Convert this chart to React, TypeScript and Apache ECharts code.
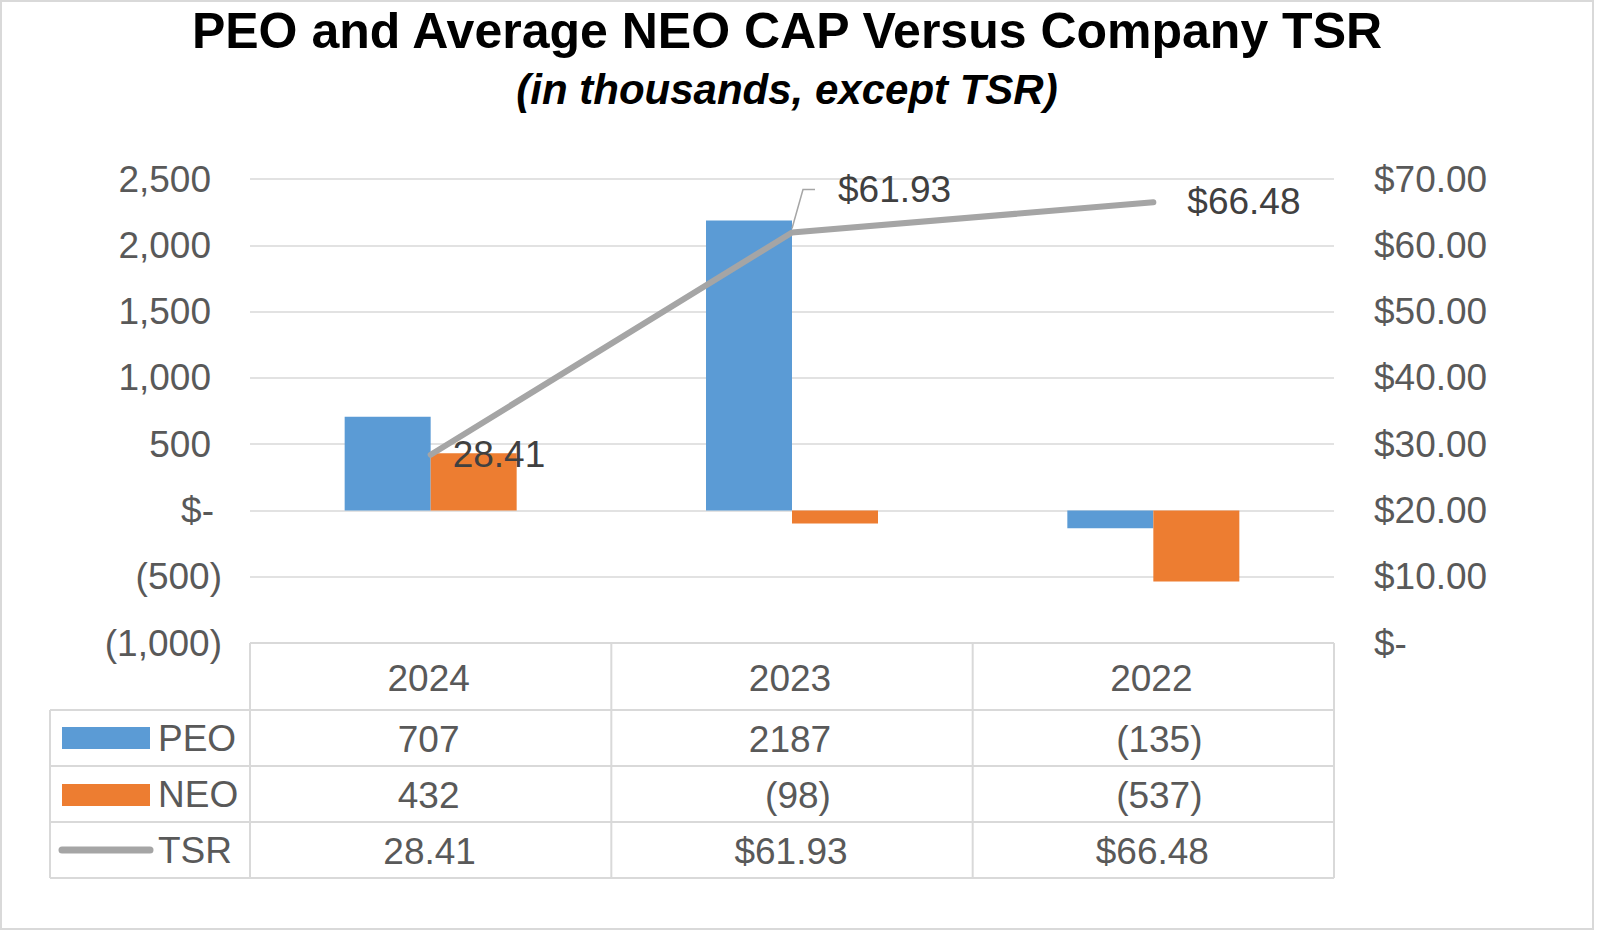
import React, { useEffect, useRef } from "react";
import * as echarts from "echarts";

// ---------------- data ----------------
const categories = ["2024", "2023", "2022"];
const peoValues = [707, 2187, -135];
const neoValues = [432, -98, -537];
const tsrValues = [28.41, 61.93, 66.48];
const tsrLabels = ["28.41", "$61.93", "$66.48"];
const seriesNames = ["PEO", "NEO", "TSR"];
const leftAxisMin = -1000;
const leftAxisMax = 2500;
const leftAxisStep = 500;
const rightAxisMin = 0;
const rightAxisMax = 70;
const rightAxisStep = 10;
const titleText = "PEO and Average NEO CAP Versus Company TSR";
const subtitleText = "(in thousands, except TSR)";

// ---------------- layout / style ----------------
const W = 1600;
const H = 932;
const GRID_L = 250;
const GRID_R = 1334;
const GRID_T = 179;
const GRID_B = 643;
const ROW_Y = [643, 710, 766, 822, 878];
const LEGEND_L = 50;
const FONT = "'Liberation Sans', Arial, Helvetica, sans-serif";
const BLUE = "#5b9bd5";
const ORANGE = "#ed7d31";
const GRAY = "#a5a5a5";
const LINE_C = "#d9d9d9";
const TEXT_C = "#595959";
const LABEL_C = "#404040";
const FS = 37;

const fmtParen = (v: number) => (v < 0 ? `(${Math.abs(v)})` : `${v}`);

function leftLabel(v: number) {
  if (v === 0) return "{z|$-}";
  if (v < 0) return `{n|(${Math.abs(v).toLocaleString("en-US")})}`;
  return `{p|${v.toLocaleString("en-US")}}`;
}
function rightLabel(v: number) {
  if (v === 0) return "$-";
  return "$" + v.toFixed(2);
}

const labelOffsets: Array<[number, number]> = [
  [21, 0],
  [45, -43],
  [33, -1],
];

export default function App() {
  const ref = useRef<HTMLDivElement>(null);

  useEffect(() => {
    const chart = echarts.init(ref.current!, null, { renderer: "svg" });
    const baseRich = { fontSize: FS, color: TEXT_C, fontFamily: FONT };
    const option: any = {
      animation: false,
      backgroundColor: "#ffffff",
      textStyle: { fontFamily: FONT },
      grid: {
        left: GRID_L,
        right: W - GRID_R,
        top: GRID_T,
        bottom: H - GRID_B,
        containLabel: false,
      },
      xAxis: {
        type: "category",
        data: categories,
        axisLine: { show: false },
        axisTick: { show: false },
        axisLabel: { show: false },
        splitLine: { show: false },
      },
      yAxis: [
        {
          type: "value",
          min: leftAxisMin,
          max: leftAxisMax,
          interval: leftAxisStep,
          axisLine: { show: false },
          axisTick: { show: false },
          splitLine: { show: true, lineStyle: { color: LINE_C, width: 1.5 } },
          axisLabel: {
            margin: 28,
            formatter: leftLabel,
            rich: {
              p: { ...baseRich, padding: [0, 11, 0, 0] },
              z: { ...baseRich, padding: [0, 8, 0, 0] },
              n: { ...baseRich },
            },
            fontSize: FS,
            color: TEXT_C,
            fontFamily: FONT,
          },
        },
        {
          type: "value",
          position: "right",
          min: rightAxisMin,
          max: rightAxisMax,
          interval: rightAxisStep,
          axisLine: { show: false },
          axisTick: { show: false },
          splitLine: { show: false },
          axisLabel: {
            margin: 40,
            formatter: rightLabel,
            fontSize: FS,
            color: TEXT_C,
            fontFamily: FONT,
          },
        },
      ],
      series: [
        {
          name: seriesNames[0],
          type: "bar",
          data: peoValues,
          yAxisIndex: 0,
          barWidth: 86,
          barGap: "0%",
          itemStyle: { color: BLUE },
        },
        {
          name: seriesNames[1],
          type: "bar",
          data: neoValues,
          yAxisIndex: 0,
          barWidth: 86,
          barGap: "0%",
          itemStyle: { color: ORANGE },
        },
        {
          name: seriesNames[2],
          type: "line",
          yAxisIndex: 1,
          data: tsrValues.map((v, i) => ({
            value: v,
            label: {
              show: true,
              position: "right",
              distance: 0,
              offset: labelOffsets[i],
              formatter: tsrLabels[i],
              fontSize: FS,
              color: LABEL_C,
              fontFamily: FONT,
            },
          })),
          showSymbol: true,
          symbol: "circle",
          symbolSize: 2,
          itemStyle: { color: GRAY },
          lineStyle: { color: GRAY, width: 6, cap: "round", join: "round" },
          z: 5,
        },
      ],
    };
    chart.setOption(option);

    // ---------- graphics: title, data table, leader line, border ----------
    const g: any[] = [];
    const txt = (
      text: string,
      x: number,
      y: number,
      align: string,
      font: string,
      fill: string
    ) => ({
      type: "text",
      silent: true,
      style: {
        text,
        x,
        y,
        font,
        fill,
        align,
        textAlign: align,
        verticalAlign: "middle",
        textVerticalAlign: "middle",
      },
    });
    const ln = (x1: number, y1: number, x2: number, y2: number, w = 2, c = LINE_C) => ({
      type: "line",
      silent: true,
      shape: { x1, y1, x2, y2 },
      style: { stroke: c, lineWidth: w },
    });

    // outer border
    g.push({
      type: "rect",
      silent: true,
      shape: { x: 1, y: 1, width: 1592, height: 928 },
      style: { fill: "none", stroke: LINE_C, lineWidth: 2 },
    });

    // title
    g.push(txt(titleText, 787, 31, "center", `bold 50px ${FONT}`, "#000000"));
    g.push(txt(subtitleText, 787, 89, "center", `italic bold 42px ${FONT}`, "#000000"));

    // data table lines
    const colW = (GRID_R - GRID_L) / categories.length;
    g.push(ln(GRID_L, ROW_Y[0], GRID_R, ROW_Y[0]));
    for (let r = 1; r < ROW_Y.length; r++) g.push(ln(LEGEND_L, ROW_Y[r], GRID_R, ROW_Y[r]));
    for (let c = 0; c <= categories.length; c++) {
      const x = GRID_L + c * colW;
      g.push(ln(x, ROW_Y[0], x, ROW_Y[ROW_Y.length - 1]));
    }
    g.push(ln(LEGEND_L, ROW_Y[1], LEGEND_L, ROW_Y[ROW_Y.length - 1]));

    const rowMid = (r: number) => (ROW_Y[r] + ROW_Y[r + 1]) / 2;
    const cellFont = `${FS}px ${FONT}`;
    categories.forEach((cat, i) => {
      const cx = GRID_L + (i + 0.5) * colW;
      g.push(txt(cat, cx - 2, rowMid(0) + 2, "center", cellFont, TEXT_C));
      const pv = peoValues[i];
      const nv = neoValues[i];
      g.push(txt(fmtParen(pv), cx + (pv < 0 ? 6 : -2), rowMid(1) + 1, "center", cellFont, TEXT_C));
      g.push(txt(fmtParen(nv), cx + (nv < 0 ? 6 : -2), rowMid(2) + 1, "center", cellFont, TEXT_C));
      g.push(txt(tsrLabels[i], cx - 1, rowMid(3) + 1, "center", cellFont, TEXT_C));
    });

    // legend keys inside table
    g.push({
      type: "rect",
      silent: true,
      shape: { x: 62, y: rowMid(1) - 11, width: 88, height: 22 },
      style: { fill: BLUE },
    });
    g.push({
      type: "rect",
      silent: true,
      shape: { x: 62, y: rowMid(2) - 10, width: 88, height: 22 },
      style: { fill: ORANGE },
    });
    g.push({
      type: "line",
      silent: true,
      shape: { x1: 62, y1: rowMid(3), x2: 150, y2: rowMid(3) },
      style: { stroke: GRAY, lineWidth: 7, lineCap: "round" },
    });
    seriesNames.forEach((n, r) => {
      g.push(txt(n, 158, rowMid(r + 1), "left", cellFont, TEXT_C));
    });

    // leader line for the 2023 TSR label
    const p = chart.convertToPixel({ xAxisIndex: 0, yAxisIndex: 1 }, [
      categories[1],
      tsrValues[1],
    ]) as number[];
    if (p && isFinite(p[0]) && isFinite(p[1])) {
      g.push({
        type: "polyline",
        silent: true,
        z: 10,
        shape: {
          points: [
            [p[0], p[1] - 4],
            [p[0] + 11, p[1] + labelOffsets[1][1]],
            [p[0] + 23, p[1] + labelOffsets[1][1]],
          ],
        },
        style: { stroke: "#a6a6a6", lineWidth: 1.5, fill: "none" },
      });
    }

    chart.setOption({ graphic: g });
    return () => chart.dispose();
  }, []);

  return (
    <div
      ref={ref}
      style={{
        position: "absolute",
        left: 0,
        top: 0,
        width: W,
        height: H,
        background: "#ffffff",
      }}
    />
  );
}
